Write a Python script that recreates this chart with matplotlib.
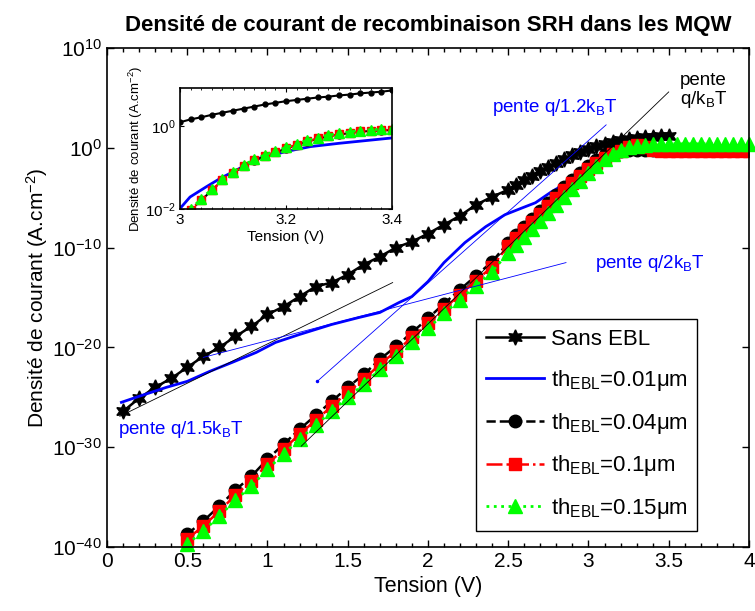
import numpy as np
import matplotlib
matplotlib.use("Agg")
import matplotlib.pyplot as plt
from matplotlib.ticker import MultipleLocator, NullLocator, NullFormatter

plt.rcParams['font.family'] = ['Liberation Sans', 'DejaVu Sans']
plt.rcParams['mathtext.fontset'] = 'custom'
plt.rcParams['mathtext.rm'] = 'Liberation Sans'
plt.rcParams['mathtext.it'] = 'Liberation Sans'
plt.rcParams['mathtext.default'] = 'regular'
plt.rcParams['axes.unicode_minus'] = False

# ---- data (log10 of current density) ----
# Sans EBL: sparse stars then dense part
v_sans = [0.1, 0.2, 0.3, 0.4, 0.5, 0.6, 0.7, 0.8, 0.9, 1.0, 1.1, 1.2, 1.3, 1.4,
          1.5, 1.6, 1.7, 1.8, 1.9, 2.0, 2.1, 2.2, 2.3, 2.4,
          2.5, 2.55, 2.6, 2.65, 2.7, 2.75, 2.8, 2.85, 2.9, 2.95, 3.0, 3.05,
          3.1, 3.15, 3.2, 3.25, 3.3, 3.35, 3.4, 3.45, 3.5]
log_sans = [-26.4, -25.1, -24.0, -23.1, -22.0, -20.9, -20.0, -18.9, -17.9, -16.7,
            -15.9, -14.9, -13.9, -13.5, -12.7, -11.7, -10.9, -10.0, -9.4, -8.6,
            -7.7, -6.8, -5.7, -4.9,
            -4.2, -3.7, -3.2, -2.8, -2.3, -1.9, -1.5, -1.1, -0.7, -0.4, -0.1, 0.2,
            0.4, 0.6, 0.8, 0.9, 1.0, 1.1, 1.1, 1.2, 1.2]

# th_EBL = 0.01 um (solid blue, no markers)
v_01 = [0.09, 0.2, 0.37, 0.5, 0.64, 0.78, 0.93, 1.05, 1.2, 1.4, 1.57, 1.7, 1.82,
        1.9, 2.0, 2.1, 2.23, 2.36, 2.48, 2.59, 2.67, 2.77, 2.9, 3.0, 3.1, 3.2,
        3.3, 3.4, 3.6, 4.0]
log_01 = [-25.5, -24.9, -24.0, -23.4, -22.4, -21.5, -20.5, -19.5, -18.7, -17.7,
          -17.0, -16.5, -15.5, -14.9, -13.4, -11.5, -9.5, -7.9, -6.7, -6.0, -5.5,
          -4.4, -3.2, -2.0, -1.2, -0.6, -0.4, -0.3, -0.3, -0.3]

# common voltages for the thicker EBL curves
v_ebl = [0.5, 0.6, 0.7, 0.8, 0.9, 1.0, 1.1, 1.2, 1.3, 1.4, 1.5, 1.6, 1.7, 1.8,
         1.9, 2.0, 2.1, 2.2, 2.3, 2.4,
         2.5, 2.55, 2.6, 2.65, 2.7, 2.75, 2.8, 2.85, 2.9, 2.95, 3.0, 3.05, 3.1,
         3.15, 3.2, 3.25, 3.3, 3.35, 3.4, 3.45, 3.5, 3.55, 3.6, 3.65, 3.7, 3.75,
         3.8, 3.85, 3.9, 3.95, 4.0]
log_04 = [-38.7, -37.4, -35.9, -34.3, -32.9, -31.2, -29.7, -28.2, -26.8, -25.4,
          -24.0, -22.7, -21.2, -19.9, -18.5, -17.1, -15.6, -14.2, -12.8, -11.4,
          -9.5, -8.7, -7.9, -7.1, -6.3, -5.5, -4.7, -3.9, -3.2, -2.5, -1.8, -1.2,
          -0.7, -0.4, -0.3, -0.2, -0.2, -0.2, -0.2, -0.2, -0.2, -0.2, -0.2, -0.2,
          -0.2, -0.2, -0.2, -0.2, -0.2, -0.2, -0.2]
log_1 = [-39.2, -37.9, -36.4, -34.8, -33.4, -31.7, -30.2, -28.7, -27.3, -25.9,
         -24.5, -23.2, -21.7, -20.4, -19.0, -17.6, -16.1, -14.7, -13.3, -11.9,
         -9.8, -9.0, -8.2, -7.4, -6.6, -5.8, -5.0, -4.2, -3.5, -2.8, -2.1, -1.5,
         -1.0, -0.6, -0.3, 0.1, 0.3, 0.1, -0.2, -0.3, -0.3, -0.3, -0.3, -0.3,
         -0.3, -0.3, -0.3, -0.3, -0.3, -0.3, -0.3]
log_15 = [-39.7, -38.4, -36.9, -35.3, -33.9, -32.2, -30.7, -29.2, -27.8, -26.4,
          -25.0, -23.7, -22.2, -20.9, -19.5, -18.1, -16.6, -15.2, -13.8, -12.4,
          -10.5, -9.7, -8.9, -8.1, -7.3, -6.5, -5.7, -4.9, -4.1, -3.3, -2.5, -1.8,
          -1.1, -0.6, -0.2, 0.1, 0.2, 0.3, 0.4, 0.4, 0.4, 0.4, 0.4, 0.4, 0.4,
          0.4, 0.4, 0.4, 0.4, 0.4, 0.4]

# slope guide lines (V, log10 J) end points
guide_15 = ([0.08, 1.78], [-26.9, -13.5])
guide_2 = ([0.60, 2.86], [-21.0, -11.5])
guide_12 = ([1.31, 3.11], [-23.4, 2.3])
guide_1 = ([1.21, 3.50], [-29.9, 5.6])

# inset data
vi = [3.00, 3.02, 3.04, 3.06, 3.08, 3.10, 3.12, 3.14, 3.16, 3.18, 3.20, 3.22,
      3.24, 3.26, 3.28, 3.30, 3.32, 3.34, 3.36, 3.38, 3.40]
li_sans = [0.10, 0.17, 0.22, 0.28, 0.33, 0.38, 0.43, 0.48, 0.53, 0.57, 0.61,
           0.64, 0.67, 0.70, 0.72, 0.75, 0.77, 0.80, 0.82, 0.84, 0.87]
li_04 = [-2.30, -2.03, -1.79, -1.55, -1.31, -1.13, -0.97, -0.83, -0.72, -0.63,
         -0.54, -0.45, -0.37, -0.30, -0.24, -0.20, -0.16, -0.13, -0.11, -0.10, -0.09]
li_1 = [-2.30, -2.02, -1.78, -1.54, -1.30, -1.12, -0.96, -0.82, -0.71, -0.62,
        -0.53, -0.44, -0.36, -0.29, -0.23, -0.19, -0.15, -0.12, -0.10, -0.09, -0.08]
li_15 = [-2.25, -2.00, -1.76, -1.52, -1.28, -1.10, -0.94, -0.80, -0.69, -0.60,
         -0.51, -0.42, -0.34, -0.27, -0.21, -0.17, -0.13, -0.10, -0.08, -0.07, -0.06]
vi_01 = [3.0, 3.019, 3.05, 3.076, 3.1, 3.15, 3.176, 3.2, 3.246, 3.3, 3.4]
li_01 = [-1.99, -1.71, -1.46, -1.26, -1.10, -0.77, -0.69, -0.61, -0.49, -0.41, -0.28]


def p10(a):
    return 10.0 ** np.array(a)


fig = plt.figure(figsize=(7.55, 6.11), dpi=100)
ax = fig.add_axes([0.1417, 0.1047, 0.8503, 0.8167])

ax.semilogy(v_sans, p10(log_sans), '-', color='k', lw=1.8, marker=(6, 1, 0),
            ms=11, label='Sans EBL')
ax.semilogy(v_01, p10(log_01), '-', color='#0000ff', lw=2.0,
            label='th$_{EBL}$=0.01μm')
ax.semilogy(v_ebl, p10(log_04), '--', color='k', lw=1.8, marker='o', ms=9,
            label='th$_{EBL}$=0.04μm')
ax.semilogy(v_ebl, p10(log_1), '-.', color='#ff0000', lw=1.8, marker='s', ms=8.5,
            label='th$_{EBL}$=0.1μm')
ax.semilogy(v_ebl, p10(log_15), ':', color='#00ff00', lw=2.0, marker='^', ms=10,
            label='th$_{EBL}$=0.15μm', clip_on=False)

# slope guides
ax.semilogy(guide_15[0], p10(guide_15[1]), color='k', lw=0.6)
ax.semilogy(guide_2[0], p10(guide_2[1]), color='#0000ff', lw=0.6)
ax.semilogy(guide_12[0], p10(guide_12[1]), color='#0000ff', lw=0.6)
ax.semilogy(guide_12[0][:1], p10(guide_12[1][:1]), '.', color='#0000ff', ms=3)
ax.semilogy(guide_1[0], p10(guide_1[1]), color='k', lw=0.6)

ax.text(0.07, 10**-28.2, 'pente q/1.5k$_B$T', color='#0000ff', fontsize=13.5,
        va='center', ha='left')
ax.text(2.40, 10**4.0, 'pente q/1.2k$_B$T', color='#0000ff', fontsize=13.5,
        va='center', ha='left')
ax.text(3.04, 10**-11.6, 'pente q/2k$_B$T', color='#0000ff', fontsize=13.5,
        va='center', ha='left')
ax.text(3.57, 10**5.7, 'pente\nq/k$_B$T', color='k', fontsize=13.5,
        va='center', ha='left', linespacing=1.0)

ax.set_xlim(0, 4)
ax.set_ylim(1e-40, 1e10)
ax.set_xticks([0, 0.5, 1, 1.5, 2, 2.5, 3, 3.5, 4])
ax.set_xticklabels(['0', '0.5', '1', '1.5', '2', '2.5', '3', '3.5', '4'])
ax.xaxis.set_minor_locator(MultipleLocator(0.1))
ax.set_yticks([1e-40, 1e-30, 1e-20, 1e-10, 1e0, 1e10])
ax.yaxis.set_minor_locator(NullLocator())
ax.yaxis.set_minor_formatter(NullFormatter())
ax.tick_params(which='both', direction='in', top=True, right=True,
               labelsize=15, width=1.0)
ax.tick_params(which='major', length=5)
ax.tick_params(which='minor', length=3)
for s in ax.spines.values():
    s.set_linewidth(1.2)

ax.set_xlabel('Tension (V)', fontsize=15.5, labelpad=4)
ax.set_ylabel('Densité de courant (A.cm$^{-2}$)', fontsize=15, labelpad=2)
ax.set_title('Densité de courant de recombinaison SRH dans les MQW',
             fontsize=16, fontweight='bold', pad=12)

leg = ax.legend(loc='lower left', bbox_to_anchor=(0.575, 0.032), fontsize=16,
                handlelength=2.6, fancybox=False, edgecolor='k', framealpha=1,
                borderpad=0.45, labelspacing=0.8, handletextpad=0.3,
                borderaxespad=0)
leg.get_frame().set_linewidth(1.0)

# ---- inset ----
axi = fig.add_axes([0.2384, 0.658, 0.2808, 0.198])
axi.semilogy(vi, p10(li_sans), '-', color='k', lw=1.5, marker='o', ms=3.5)
axi.semilogy(vi_01, p10(li_01), '-', color='#0000ff', lw=2.0)
axi.semilogy(vi, p10(li_04), '--', color='k', lw=1.5, marker='o', ms=5)
axi.semilogy(vi, p10(li_1), '-.', color='#ff0000', lw=1.5, marker='s', ms=5.5)
axi.semilogy(vi, p10(li_15), ':', color='#00ff00', lw=2.0, marker='^', ms=7)
axi.set_xlim(3.0, 3.4)
axi.set_ylim(1e-2, 10**0.93)
axi.set_xticks([3.0, 3.2, 3.4])
axi.set_xticklabels(['3', '3.2', '3.4'])
axi.xaxis.set_minor_locator(MultipleLocator(0.02))
axi.set_yticks([1e-2, 1e0])
axi.yaxis.set_minor_locator(NullLocator())
axi.yaxis.set_minor_formatter(NullFormatter())
axi.tick_params(which='both', direction='in', top=True, right=True,
                labelsize=11, pad=3)
axi.tick_params(which='major', length=3)
axi.tick_params(which='minor', length=1.5)
for s in axi.spines.values():
    s.set_linewidth(1.2)
axi.set_xlabel('Tension (V)', fontsize=11, labelpad=2)
axi.set_ylabel('Densité de courant (A.cm$^{-2}$)', fontsize=9.5, labelpad=0)

fig.savefig('out.png', dpi=100)
